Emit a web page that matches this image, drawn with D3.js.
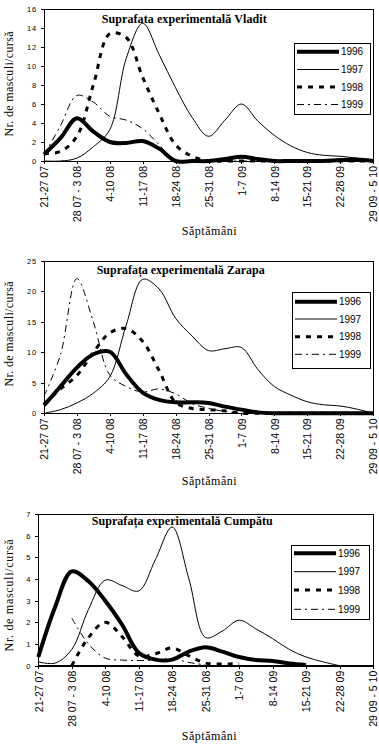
<!DOCTYPE html>
<html><head><meta charset="utf-8">
<script src="https://cdn.jsdelivr.net/npm/d3@7"></script>
<style>body{margin:0;background:#fff}svg{display:block}</style>
</head><body>
<svg id="c" width="379" height="745"></svg>
<script>
// Week categories (tick labels)
const weeks = ["21-27 07","28 07 - 3 08","4-10 08","11-17 08","18-24 08","25-31 08","1-7 09","8-14 09","15-21 09","22-28 09","29 09 - 5 10"];
const years = ["1996","1997","1998","1999"];
// Values read at half-week steps (index i sits at week position i/2); null = no data
const vladit1996 = [0.7,2.4,4.5,3.1,2.0,1.9,2.1,1.3,0,0,0,0.2,0.45,0.2,0,0,0,0,0.1,0.15,0];
const vladit1997 = [0,0,0.3,1.5,3.3,10.8,14.5,11.2,7.7,4.6,2.6,4.3,6.0,4.2,2.7,1.6,0.9,0.6,0.5,0.3,0];
const vladit1998 = [0.8,1.0,2.6,8.0,13.4,13.0,8.8,5.0,1.7,0.5,0,0,0,0,0,0,0,0,0,0,0];
const vladit1999 = [0.6,3.7,6.9,6.2,4.7,4.3,3.4,1.7,0,0,0,0,0,0,0,0,0,0,0,0,0];
const zarapa1996 = [1.3,4.4,7.5,9.7,10.1,6.4,3.4,2.2,1.8,1.8,1.7,1.1,0.6,0.15,0,0,0,0,0,0,0];
const zarapa1997 = [0,0.6,1.7,3.3,6.0,14.5,22.0,20.4,15.6,12.7,10.3,10.6,10.8,7.2,4.4,3.0,1.9,1.4,1.2,0.7,0];
const zarapa1998 = [1.5,4.0,6.2,10.0,13.2,13.9,11.8,7.0,1.8,0.8,0.6,0.4,0,0,0,0,0,0,0,0,0];
const zarapa1999 = [2.8,9.6,22.1,15.0,6.3,4.4,3.5,4.0,3.2,1.6,0.8,0.3,0,0,0,0,0,0,0,0,0];
const cumpatu1996 = [0.4,2.7,4.35,3.9,3.0,1.9,0.6,0.28,0.28,0.65,0.85,0.65,0.4,0.26,0.22,0.1,0.03,null,null,null,null];
const cumpatu1997 = [0.18,0.12,0.75,2.6,3.95,3.7,3.45,4.9,6.4,4.0,1.3,1.6,2.1,1.7,1.25,0.75,0.4,0.18,0,null,null];
const cumpatu1998 = [null,null,0,1.3,2.0,1.35,0.45,0.55,0.82,0.45,0.12,0.08,0.1,null,null,null,null,null,null,null,null];
const cumpatu1999 = [null,null,2.2,1.0,0.35,0.26,0.24,0.26,0.32,0.15,0.03,null,null,null,null,null,null,null,null,null,null];
const yTicksV = [0,2,4,6,8,10,12,14,16];
const yTicksZ = [0,5,10,15,20,25];
const yTicksC = [0,1,2,3,4,5,6,7];

const panels = [
  {title:"Suprafata experimentală Vladit", tx:101.7, tl:165, ty:23, ymax:16, ticks:yTicksV,
   L:44, R:373, T:9, B:161, ylabC:84, ylabL:105, xtY:235,
   series:[vladit1996,vladit1997,vladit1998,vladit1999],
   lg:{x:294,y:43,w:76,h:71,rows:[51.7,69.5,87,104.5]}},
  {title:"Suprafața experimentală Zarapa", tx:96.7, tl:168, ty:274, ymax:25, ticks:yTicksZ,
   L:44, R:373, T:261, B:413.3, ylabC:334, ylabL:105, xtY:485,
   series:[zarapa1996,zarapa1997,zarapa1998,zarapa1999],
   lg:{x:292,y:292,w:78,h:76,rows:[301.7,319,336.7,354.3]}},
  {title:"Suprafața experimentală Cumpătu", tx:91.7, tl:181, ty:525, ymax:7, ticks:yTicksC,
   L:38.3, R:373, T:514, B:665.7, ylabC:595.5, ylabL:112, xtY:740,
   series:[cumpatu1996,cumpatu1997,cumpatu1998,cumpatu1999],
   lg:{x:291,y:545,w:78,h:74,rows:[553.3,571.7,590,609.3]}}
];
const styles = [
  {w:4, dash:null},
  {w:1, dash:null},
  {w:3, dash:"5,6"},
  {w:1, dash:"7,4,2,4"}
];
const SERIF = "'Liberation Serif','Times New Roman',serif";
const SANS = "'Liberation Sans',Arial,sans-serif";
const svg = d3.select("#c");

panels.forEach(p => {
  const g = svg.append("g");
  const x = d3.scaleLinear().domain([0, weeks.length-1]).range([p.L, p.R]);
  const y = d3.scaleLinear().domain([0, p.ymax]).range([p.B, p.T]);

  // plot frame
  g.append("rect").attr("x",p.L).attr("y",p.T).attr("width",p.R-p.L).attr("height",p.B-p.T)
    .attr("fill","none").attr("stroke","#000").attr("stroke-width",1).attr("shape-rendering","crispEdges");

  // series
  const line = d3.line().defined(d => d.v !== null)
    .x(d => x(d.i/2)).y(d => y(d.v)).curve(d3.curveCatmullRom.alpha(0.5));
  p.series.forEach((s, k) => {
    const pts = s.map((v,i) => ({i, v}));
    const path = g.append("path").attr("d", line(pts)).attr("fill","none")
      .attr("stroke","#000").attr("stroke-width",styles[k].w)
      .attr("stroke-linejoin","round");
    if (styles[k].dash) path.attr("stroke-dasharray", styles[k].dash);
  });

  // x axis
  const xa = g.append("g").attr("transform",`translate(0,${p.B})`)
    .call(d3.axisBottom(x).tickValues(d3.range(weeks.length)).tickFormat(i => weeks[i]).tickSize(3).tickSizeOuter(0));
  xa.select(".domain").attr("stroke","#000").attr("shape-rendering","crispEdges");
  xa.selectAll(".tick line").attr("stroke","#000").attr("shape-rendering","crispEdges");
  xa.selectAll(".tick text").attr("transform","rotate(-90)").attr("text-anchor","end")
    .attr("x",-5).attr("y",0).attr("dy","0.36em")
    .attr("font-family",SANS).attr("font-size",10.5).attr("fill","#000");

  // y axis
  const ya = g.append("g").attr("transform",`translate(${p.L},0)`)
    .call(d3.axisLeft(y).tickValues(p.ticks).tickFormat(d3.format("d")).tickSize(3).tickSizeOuter(0).tickPadding(4));
  ya.select(".domain").attr("stroke","#000").attr("shape-rendering","crispEdges");
  ya.selectAll(".tick line").attr("stroke","#000").attr("shape-rendering","crispEdges");
  ya.selectAll(".tick text").attr("font-family",SANS).attr("font-size",7.5).attr("fill","#000")
    .attr("letter-spacing",0.8);

  // title
  g.append("text").attr("x",p.tx).attr("y",p.ty).attr("font-family",SERIF).attr("font-weight","bold")
    .attr("font-size",12).attr("textLength",p.tl).attr("lengthAdjust","spacing").text(p.title);

  // y label
  g.append("text").attr("transform",`translate(13,${p.ylabC}) rotate(-90)`).attr("text-anchor","middle")
    .attr("font-family",SERIF).attr("font-size",12).attr("textLength",p.ylabL).attr("lengthAdjust","spacing")
    .text("Nr. de masculi/cursă");

  // x title
  g.append("text").attr("x",181.7).attr("y",p.xtY).attr("font-family",SERIF).attr("font-size",12)
    .attr("textLength",55).attr("lengthAdjust","spacing").text("Săptămâni");

  // legend
  const lg = p.lg;
  g.append("rect").attr("x",lg.x).attr("y",lg.y).attr("width",lg.w).attr("height",lg.h)
    .attr("fill","#fff").attr("stroke","#000").attr("shape-rendering","crispEdges");
  years.forEach((yr,k) => {
    const ly = lg.rows[k];
    const l = g.append("line").attr("x1",lg.x+3).attr("x2",lg.x+45).attr("y1",ly).attr("y2",ly)
      .attr("stroke","#000").attr("stroke-width",styles[k].w);
    if (styles[k].dash) l.attr("stroke-dasharray", styles[k].dash);
    g.append("text").attr("x",lg.x+47).attr("y",ly+3.5).attr("font-family",SANS).attr("font-size",10)
      .attr("textLength",22).attr("lengthAdjust","spacing").text(yr);
  });
});
</script>
</body></html>
